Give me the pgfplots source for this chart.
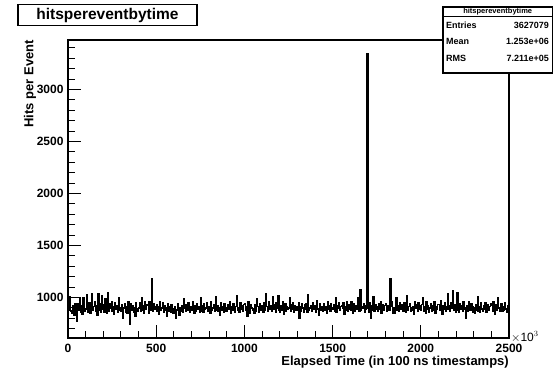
\documentclass[border=0pt]{standalone}
\usepackage{fontspec}
\setmainfont{Liberation Sans}
\usepackage{pgfplots}
\pgfplotsset{compat=1.18}
\begin{document}
\begin{tikzpicture}
\path[use as bounding box] (0pt,0pt) rectangle (553pt,371pt);
\begin{axis}[name=ax, at={(68pt,33pt)}, anchor=south west, scale only axis,
  width=441pt, height=298pt,
  xmin=0, xmax=2500, ymin=610, ymax=3475,
  axis line style={line width=1.1pt},
  xtick={0,500,...,2500}, ytick={1000,1500,...,3000},
  minor xtick={100,200,300,400,600,700,800,900,1100,1200,1300,1400,1600,1700,1800,1900,2100,2200,2300,2400},
  minor ytick={700,800,900,1100,1200,1300,1400,1600,1700,1800,1900,2100,2200,2300,2400,2600,2700,2800,2900,3100,3200,3300,3400},
  tick align=inside, xtick pos=bottom, ytick pos=left,
  major tick length=13pt, minor tick length=7pt,
  every tick/.style={line width=0.9pt, black},
  /pgf/number format/assume math mode=true,
  /pgf/number format/1000 sep={},
  ticklabel style={font=\fontsize{12}{12}\selectfont\bfseries},
  yticklabel style={xshift=-1pt},
  xticklabel style={yshift=-3pt},
]
\addplot[const plot mark left, black, line width=1.4pt] coordinates {
(0,960)(5,880)(10,1010)(15,870)(20,850)(25,920)(30,900)(35,830)(40,940)(45,880)
(50,770)(55,940)(60,880)(65,990)(70,860)(75,920)(80,840)(85,1000)(90,900)(95,870)
(100,890)(105,1030)(110,860)(115,920)(120,950)(125,850)(130,900)(135,1040)(140,880)(145,910)
(150,960)(155,870)(160,920)(165,830)(170,1040)(175,880)(180,940)(185,860)(190,1020)(195,890)
(200,930)(205,860)(210,990)(215,900)(220,850)(225,1050)(230,870)(235,940)(240,900)(245,960)
(250,870)(255,910)(260,840)(265,950)(270,890)(275,920)(280,860)(285,1000)(290,880)(295,900)
(300,870)(305,930)(310,800)(315,900)(320,940)(325,860)(330,910)(335,850)(340,960)(345,880)
(350,740)(355,940)(360,880)(365,920)(370,860)(375,900)(380,820)(385,950)(390,890)(395,870)
(400,900)(405,950)(410,870)(415,1000)(420,880)(425,920)(430,850)(435,960)(440,890)(445,930)
(450,920)(455,850)(460,960)(465,880)(470,900)(475,1180)(480,870)(485,940)(490,890)(495,910)
(500,930)(505,870)(510,910)(515,840)(520,960)(525,880)(530,900)(535,950)(540,860)(545,920)
(550,880)(555,900)(560,820)(565,940)(570,870)(575,910)(580,860)(585,930)(590,890)(595,850)
(600,850)(605,910)(610,800)(615,880)(620,940)(625,860)(630,830)(635,900)(640,870)(645,920)
(650,860)(655,990)(660,900)(665,870)(670,930)(675,880)(680,950)(685,900)(690,860)(695,910)
(700,880)(705,960)(710,900)(715,850)(720,920)(725,870)(730,940)(735,890)(740,910)(745,860)
(750,1000)(755,870)(760,920)(765,860)(770,940)(775,890)(780,900)(785,950)(790,870)(795,910)
(800,910)(805,850)(810,960)(815,880)(820,900)(825,930)(830,870)(835,1010)(840,880)(845,920)
(850,870)(855,900)(860,830)(865,950)(870,880)(875,910)(880,860)(885,940)(890,900)(895,870)
(900,870)(905,930)(910,890)(915,960)(920,850)(925,910)(930,880)(935,940)(940,900)(945,860)
(950,910)(955,1020)(960,880)(965,900)(970,860)(975,950)(980,890)(985,920)(990,870)(995,930)
(1000,940)(1005,880)(1010,910)(1015,820)(1020,960)(1025,890)(1030,850)(1035,930)(1040,900)(1045,880)
(1050,890)(1055,850)(1060,930)(1065,870)(1070,990)(1075,910)(1080,860)(1085,940)(1090,880)(1095,920)
(1100,900)(1105,860)(1110,950)(1115,880)(1120,1040)(1125,910)(1130,870)(1135,960)(1140,890)(1145,920)
(1150,910)(1155,870)(1160,1010)(1165,890)(1170,930)(1175,860)(1180,950)(1185,900)(1190,1020)(1195,880)
(1200,860)(1205,920)(1210,880)(1215,960)(1220,840)(1225,900)(1230,940)(1235,870)(1240,910)(1245,890)
(1250,900)(1255,1000)(1260,870)(1265,930)(1270,890)(1275,950)(1280,860)(1285,920)(1290,880)(1295,910)
(1300,880)(1305,950)(1310,800)(1315,910)(1320,870)(1325,940)(1330,900)(1335,860)(1340,930)(1345,890)
(1350,940)(1355,860)(1360,1030)(1365,880)(1370,900)(1375,920)(1380,870)(1385,950)(1390,890)(1395,910)
(1400,920)(1405,860)(1410,970)(1415,890)(1420,830)(1425,940)(1430,880)(1435,910)(1440,900)(1445,870)
(1450,940)(1455,880)(1460,910)(1465,850)(1470,960)(1475,890)(1480,920)(1485,870)(1490,940)(1495,900)
(1500,890)(1505,930)(1510,870)(1515,1000)(1520,860)(1525,920)(1530,900)(1535,950)(1540,880)(1545,910)
(1550,920)(1555,900)(1560,950)(1565,840)(1570,910)(1575,880)(1580,960)(1585,870)(1590,930)(1595,890)
(1600,880)(1605,960)(1610,900)(1615,850)(1620,940)(1625,870)(1630,920)(1635,890)(1640,1000)(1645,910)
(1650,870)(1655,1070)(1660,880)(1665,910)(1670,900)(1675,940)(1680,860)(1685,890)(1690,920)(1695,3340)
(1700,900)(1705,860)(1710,950)(1715,800)(1720,920)(1725,880)(1730,1010)(1735,870)(1740,930)(1745,890)
(1750,910)(1755,870)(1760,940)(1765,890)(1770,960)(1775,850)(1780,900)(1785,930)(1790,880)(1795,920)
(1800,940)(1805,870)(1810,900)(1815,920)(1820,880)(1825,1180)(1830,910)(1835,960)(1840,850)(1845,900)
(1850,850)(1855,910)(1860,1000)(1865,880)(1870,920)(1875,870)(1880,950)(1885,890)(1890,930)(1895,900)
(1900,870)(1905,950)(1910,890)(1915,860)(1920,1020)(1925,880)(1930,910)(1935,940)(1940,870)(1945,900)
(1950,880)(1955,910)(1960,840)(1965,960)(1970,900)(1975,930)(1980,870)(1985,950)(1990,890)(1995,920)
(2000,880)(2005,930)(2010,1000)(2015,870)(2020,910)(2025,850)(2030,960)(2035,890)(2040,920)(2045,860)
(2050,900)(2055,940)(2060,870)(2065,920)(2070,880)(2075,960)(2080,850)(2085,910)(2090,890)(2095,930)
(2100,930)(2105,880)(2110,970)(2115,900)(2120,840)(2125,920)(2130,890)(2135,950)(2140,870)(2145,910)
(2150,1040)(2155,890)(2160,920)(2165,870)(2170,950)(2175,900)(2180,1060)(2185,880)(2190,930)(2195,860)
(2200,880)(2205,1050)(2210,900)(2215,860)(2220,940)(2225,890)(2230,920)(2235,870)(2240,960)(2245,900)
(2250,890)(2255,800)(2260,920)(2265,870)(2270,960)(2275,900)(2280,880)(2285,940)(2290,910)(2295,860)
(2300,900)(2305,850)(2310,930)(2315,880)(2320,1010)(2325,870)(2330,910)(2335,860)(2340,950)(2345,890)
(2350,870)(2355,920)(2360,890)(2365,950)(2370,860)(2375,900)(2380,930)(2385,880)(2390,910)(2395,940)
(2400,920)(2405,870)(2410,960)(2415,890)(2420,840)(2425,930)(2430,880)(2435,1000)(2440,900)(2445,870)
(2450,900)(2455,940)(2460,870)(2465,910)(2470,880)(2475,950)(2480,890)(2485,860)(2490,920)(2495,880)
(2500,880)
};
\end{axis}
\begin{scope}[x=1pt,y=1pt]
% x10^3
\node[anchor=west, inner sep=0pt, font=\fontsize{12}{12}\selectfont] at (511,34) {$\times$10$^{3}$};
% axis titles
\node[anchor=east, inner sep=0pt, font=\fontsize{13}{13}\selectfont\bfseries] at (509,9) {Elapsed Time (in 100 ns timestamps)};
\node[anchor=east, rotate=90, inner sep=0pt, font=\fontsize{13}{13}\selectfont\bfseries] at (30,331) {Hits per Event};
% title box
\node[draw, line width=1.1pt, fill=white, minimum width=179pt, minimum height=21pt, inner sep=0pt,
  font=\fontsize{15.5}{15.5}\selectfont\bfseries] at (107.5,355.7) {hitspereventbytime};
% stats box
\filldraw[fill=white, draw=black, line width=1.1pt] (443,298) rectangle (552.4,364);
\draw[line width=0.8pt] (443,355) -- (552.4,355);
\node[inner sep=0pt, font=\fontsize{7.5}{7.5}\selectfont\bfseries] at (497.7,359.5) {hitspereventbytime};
\begin{scope}[every node/.style={inner sep=0pt, font=\fontsize{9}{9}\selectfont\bfseries}]
\node[anchor=west] at (446,346) {Entries};
\node[anchor=east] at (549,346) {3627079};
\node[anchor=west] at (446,329.5) {Mean};
\node[anchor=east] at (549,329.5) {1.253e+06};
\node[anchor=west] at (446,313) {RMS};
\node[anchor=east] at (549,313) {7.211e+05};
\end{scope}
\end{scope}
\end{tikzpicture}
\end{document}
